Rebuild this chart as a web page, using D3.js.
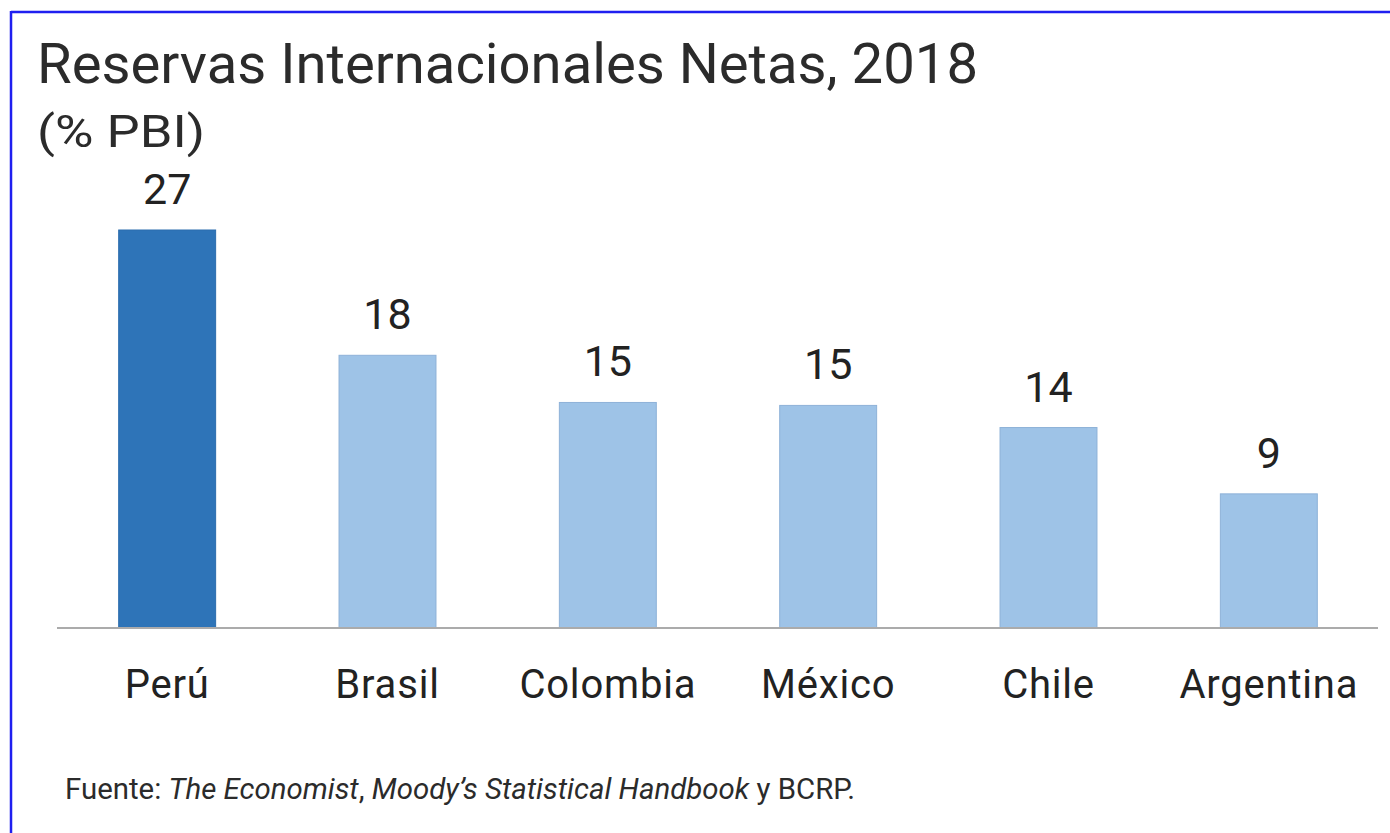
<!DOCTYPE html>
<html>
<head>
<meta charset="utf-8">
<script src="https://cdn.jsdelivr.net/npm/d3@7"></script>
<style>
  html, body { margin: 0; padding: 0; background: #fff; }
  svg { display: block; }
  text { font-family: Roboto, "Noto Sans", sans-serif; }
</style>
</head>
<body>
<svg id="chart" width="1390" height="833"></svg>
<script>
// ---- data ----
const categories = ["Perú", "Brasil", "Colombia", "México", "Chile", "Argentina"];
const values = [27.0, 18.5, 15.3, 15.1, 13.6, 9.1];
const valueLabels = ["27", "18", "15", "15", "14", "9"];
const highlight = ["Perú"];
const titleText = "Reservas Internacionales Netas, 2018";
const subtitleText = "(% PBI)";
const sourceParts = [
  { t: "Fuente: ", i: false },
  { t: "The Economist", i: true },
  { t: ", ", i: false },
  { t: "Moody\u2019s Statistical Handbook", i: true },
  { t: " y BCRP.", i: false }
];

const W = 1390, H = 833;
const svg = d3.select("#chart");

svg.append("rect").attr("width", W).attr("height", H).attr("fill", "#fff");

// frame (top and left blue edges)
svg.append("line").attr("x1", 11).attr("x2", W).attr("y1", 12).attr("y2", 12)
  .attr("stroke", "#1f1ff0").attr("stroke-width", 2.5);
svg.append("line").attr("x1", 11).attr("x2", 11).attr("y1", 11).attr("y2", H)
  .attr("stroke", "#1f1ff0").attr("stroke-width", 2.5);

const x = d3.scaleBand().domain(categories).range([57, 1379])
  .paddingInner(0.56).paddingOuter(0.28);
const y = d3.scaleLinear().domain([0, 27]).range([628, 230]);

// bars
const data = categories.map((c, i) => ({ c, v: values[i], l: valueLabels[i] }));
svg.append("g").selectAll("rect").data(data).join("rect")
  .attr("x", d => x(d.c))
  .attr("width", x.bandwidth())
  .attr("y", d => y(d.v))
  .attr("height", d => y(0) - y(d.v))
  .attr("fill", d => highlight.includes(d.c) ? "#2e74b8" : "#9ec3e7")
  .attr("stroke", d => highlight.includes(d.c) ? "#2b6cad" : "#8eb2d8")
  .attr("stroke-width", 1);

// baseline axis
const xAxis = d3.axisBottom(x).tickSize(0).tickPadding(0);
const axisG = svg.append("g").attr("transform", `translate(0,${y(0)})`).call(xAxis);
axisG.select(".domain").attr("d", "M57,0H1378").attr("stroke", "#ababab").attr("stroke-width", 2.2);
axisG.selectAll(".tick text")
  .attr("y", 70).attr("dy", 0)
  .attr("font-size", 40).attr("fill", "#222")
  .attr("letter-spacing", 0.8)
  .style("font-family", "Roboto, sans-serif");

// value labels
svg.append("g").selectAll("text").data(data).join("text")
  .attr("x", d => x(d.c) + x.bandwidth() / 2)
  .attr("y", d => y(d.v) - 26)
  .attr("text-anchor", "middle")
  .attr("font-size", 43)
  .attr("fill", "#222")
  .text(d => d.l);

// title
svg.append("text").attr("x", 37).attr("y", 83)
  .attr("font-size", 55).attr("fill", "#2b2b2b")
  .attr("textLength", 941).attr("lengthAdjust", "spacingAndGlyphs")
  .text(titleText);
svg.append("text").attr("x", 37).attr("y", 147)
  .attr("font-size", 44).attr("fill", "#2b2b2b")
  .attr("textLength", 168).attr("lengthAdjust", "spacingAndGlyphs")
  .text(subtitleText);

// source
const src = svg.append("text").attr("x", 65).attr("y", 799)
  .attr("font-size", 29).attr("fill", "#2b2b2b")
  .attr("textLength", 790).attr("lengthAdjust", "spacingAndGlyphs");
src.selectAll("tspan").data(sourceParts).join("tspan")
  .attr("font-style", d => d.i ? "italic" : "normal")
  .text(d => d.t);
</script>
</body>
</html>
